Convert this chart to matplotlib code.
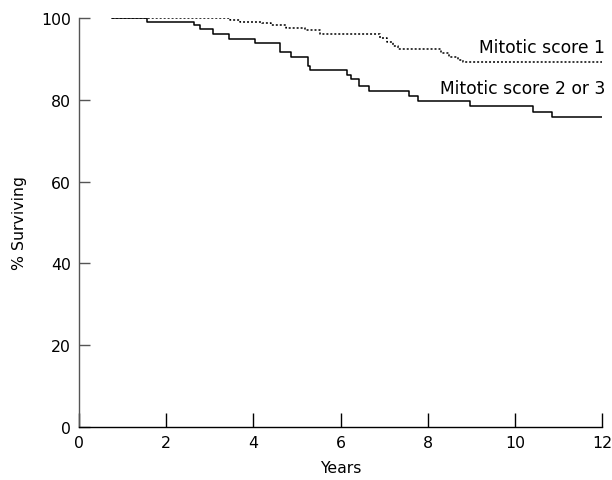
import matplotlib
matplotlib.use("Agg")
import matplotlib.pyplot as plt

# Mitotic score 1 (dotted)
t1 = [0.76, 3.46, 3.69, 4.19, 4.40, 4.76, 5.18, 5.53, 6.90, 7.06, 7.20, 7.33, 8.30, 8.50, 8.70, 8.81, 12.0]
s1 = [100.0, 99.5, 99.1, 98.7, 98.3, 97.5, 97.0, 96.0, 95.0, 94.1, 93.2, 92.4, 91.5, 90.5, 89.8, 89.2, 89.2]

# Mitotic score 2 or 3 (solid)
t2 = [0.76, 1.57, 2.64, 2.78, 3.08, 3.45, 4.04, 4.61, 4.86, 5.26, 5.31, 6.15, 6.23, 6.42, 6.65, 7.57, 7.78, 8.97, 10.41, 10.86, 12.0]
s2 = [100.0, 99.0, 98.2, 97.2, 96.2, 94.9, 94.0, 91.8, 90.4, 88.2, 87.3, 86.1, 85.0, 83.4, 82.2, 81.0, 79.7, 78.5, 77.1, 75.9, 75.9]

xticks = [0, 2, 4, 6, 8, 10, 12]
yticks = [0, 20, 40, 60, 80, 100]
label1 = "Mitotic score 1"
label2 = "Mitotic score 2 or 3"

plt.rcParams['font.family'] = ['DejaVu Sans']

fig = plt.figure(figsize=(6.12, 4.81), dpi=100)
ax = fig.add_axes([79/612, 1-428/481, (602-79)/612, (428-19)/481])

ax.plot(t1, s1, drawstyle='steps-post', color='black', lw=1.1, linestyle=(0, (1.3, 1.3)))
ax.plot(t2, s2, drawstyle='steps-post', color='black', lw=1.1)

ax.set_xlim(0, 12)
ax.set_ylim(0, 100)
ax.set_xticks(xticks)
ax.set_yticks(yticks)
ax.tick_params(axis='x', direction='in', length=10, width=1, color='black', labelsize=11.3, pad=6)
ax.tick_params(axis='y', direction='in', length=8, width=1, color='#555555', labelsize=11.3, pad=6)
for s in ['top', 'right']:
    ax.spines[s].set_visible(False)
ax.spines['left'].set_color('#555555')
ax.spines['bottom'].set_color('black')
ax.spines['left'].set_linewidth(1)
ax.spines['bottom'].set_linewidth(1)

ax.text(12.07, 92.9, label1, ha='right', va='center', fontsize=12.3, clip_on=False)
ax.text(12.07, 82.8, label2, ha='right', va='center', fontsize=12.3, clip_on=False)

ax.set_xlabel("Years", fontsize=11.3, labelpad=7)
ax.set_ylabel("% Surviving", fontsize=11.3, labelpad=10)

fig.savefig("out.png", dpi=100)
